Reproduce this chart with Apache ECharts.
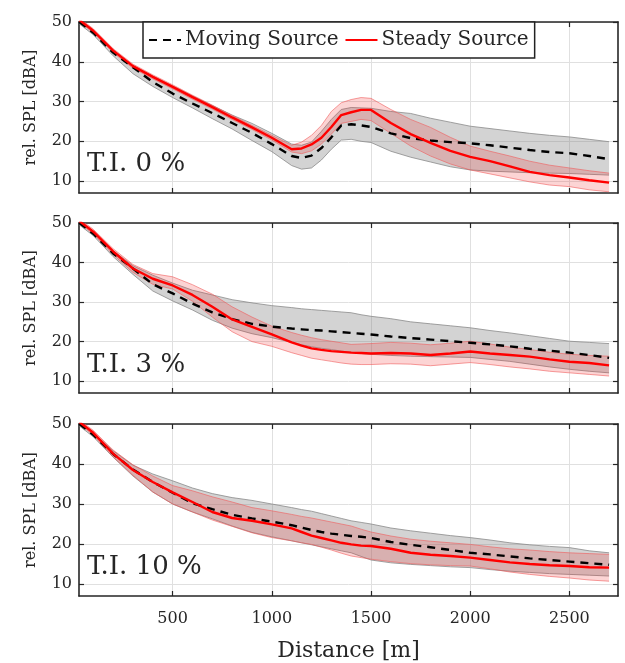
<!DOCTYPE html>
<html>
<head>
<meta charset="utf-8">
<script src="https://cdn.jsdelivr.net/npm/echarts@6/dist/echarts.min.js"></script>
<style>
html, body { margin: 0; padding: 0; background: #fff; }
#chart { width: 625px; height: 663px; }
</style>
</head>
<body>
<div id="chart"></div>
<script>
// Distance stations [m]
const distance = [30,100,200,300,400,500,600,700,800,900,1000,1100,1150,1200,1250,1300,1350,1400,1450,1500,1600,1700,1800,1900,2000,2100,2200,2300,2400,2500,2600,2700];

// T.I. 0 %
const ti0SteadyMean = [50.5,47.8,42.8,38.9,36.2,33.7,31.1,28.6,26.0,23.5,20.9,18.0,18.2,19.2,20.9,23.6,26.6,27.3,27.9,27.9,24.6,21.8,19.6,17.6,16.1,15.0,13.7,12.3,11.5,10.9,10.2,9.6];
const ti0SteadyLow  = [50.0,47.3,42.3,38.4,35.7,33.2,30.6,28.1,25.5,23.0,20.3,17.3,16.9,17.6,19.3,21.8,24.5,25.0,25.5,25.2,22.0,18.8,16.3,14.3,12.8,11.8,10.8,9.8,9.0,8.6,7.8,7.3];
const ti0SteadyHigh = [51.0,48.3,43.3,39.4,36.7,34.2,31.6,29.1,26.5,24.0,21.5,19.0,19.8,21.5,24.0,27.5,29.7,30.5,31.0,30.8,28.0,25.5,23.5,21.0,18.8,17.5,16.3,15.0,14.0,13.3,12.6,12.0];
const ti0MovingMean = [50.0,47.3,42.3,38.6,34.9,32.0,29.5,27.1,24.6,22.1,19.3,16.3,15.8,16.4,18.3,21.0,24.0,24.3,24.0,23.6,22.0,20.8,20.2,19.8,19.5,19.0,18.4,17.8,17.3,17.0,16.3,15.5];
const ti0MovingLow  = [49.5,46.8,41.5,37.0,33.8,31.0,28.4,25.7,23.1,20.2,17.4,13.9,13.0,13.3,15.3,18.0,20.3,20.5,20.0,19.7,17.5,16.0,14.8,13.6,12.8,12.5,12.3,12.1,12.0,11.9,11.7,11.5];
const ti0MovingHigh = [50.5,47.8,43.0,39.0,36.4,33.9,31.4,29.0,26.6,24.5,22.0,19.3,19.0,19.8,22.5,25.5,28.0,28.5,28.4,28.3,27.5,27.0,25.8,24.8,23.8,23.2,22.6,22.0,21.5,21.1,20.5,19.9];

// T.I. 3 %
const ti3SteadyMean = [50.5,47.8,42.8,38.5,35.9,34.2,31.8,28.8,25.6,23.7,21.8,19.8,19.0,18.3,17.9,17.6,17.4,17.2,17.1,17.0,17.1,17.0,16.6,17.0,17.5,17.0,16.6,16.2,15.5,14.9,14.6,14.0];
const ti3SteadyLow  = [50.0,47.2,42.0,37.5,34.5,33.3,30.2,26.2,22.5,20.0,18.8,17.2,16.5,15.8,15.4,15.0,14.6,14.3,14.2,14.2,14.4,14.3,13.9,14.3,14.7,14.2,13.6,13.1,12.5,12.1,11.7,11.3];
const ti3SteadyHigh = [51.0,48.4,43.5,39.5,37.2,36.4,34.4,32.0,28.8,26.2,23.9,22.3,21.6,21.0,20.5,20.1,19.7,19.3,19.4,19.5,19.8,19.6,19.2,19.6,20.1,19.4,18.6,18.0,17.3,16.8,16.5,16.3];
const ti3MovingMean = [50.0,47.3,42.3,38.5,34.5,32.2,29.6,27.4,25.7,24.5,23.8,23.3,23.1,22.9,22.8,22.6,22.4,22.2,22.0,21.8,21.3,20.9,20.5,20.1,19.7,19.3,18.8,18.2,17.7,17.2,16.6,15.9];
const ti3MovingLow  = [49.5,46.8,41.5,37.0,32.8,30.3,28.0,25.4,23.4,22.0,21.0,19.8,19.2,18.7,18.3,18.0,17.6,17.3,17.0,16.8,16.5,16.3,16.2,16.1,16.0,15.5,15.0,14.3,13.6,13.0,12.5,12.1];
const ti3MovingHigh = [50.5,47.8,43.0,39.2,36.8,34.8,33.0,31.8,30.6,29.8,29.1,28.6,28.3,28.1,27.9,27.7,27.5,27.3,26.8,26.4,25.8,25.0,24.5,24.0,23.5,22.8,22.2,21.5,20.8,20.1,19.8,19.5];

// T.I. 10 %
const ti10SteadyMean = [50.5,47.8,42.6,38.5,35.5,32.9,30.5,28.0,26.5,25.8,24.9,23.9,23.0,22.1,21.5,20.9,20.3,19.9,19.6,19.5,18.8,17.8,17.3,17.0,16.6,16.0,15.4,15.0,14.7,14.5,14.2,14.1];
const ti10SteadyLow  = [50.0,47.2,41.8,37.2,33.0,30.0,28.0,26.0,24.4,22.8,21.6,20.8,20.3,19.9,19.2,18.5,17.7,17.0,16.6,16.2,15.6,15.1,14.8,14.6,14.5,13.8,13.0,12.4,11.9,11.5,11.0,10.7];
const ti10SteadyHigh = [51.0,48.4,43.5,39.8,37.0,34.6,33.3,31.8,30.5,29.1,28.3,27.4,26.9,26.5,26.0,25.5,25.0,24.5,23.7,23.0,22.0,21.2,20.7,20.3,19.9,19.3,18.8,18.5,18.1,17.8,17.6,17.4];
const ti10MovingMean = [50.0,47.3,42.5,38.6,35.5,32.8,30.2,28.7,27.3,26.4,25.6,24.7,24.1,23.5,23.0,22.6,22.3,22.0,21.8,21.5,20.5,19.8,19.2,18.5,17.8,17.4,16.9,16.4,16.0,15.6,15.2,14.8];
const ti10MovingLow  = [49.5,46.8,41.7,37.0,33.0,30.0,28.0,26.3,24.5,22.9,21.8,20.8,20.3,19.8,19.3,18.8,18.3,17.8,16.9,16.0,15.3,14.9,14.6,14.3,14.1,13.6,13.2,12.9,12.6,12.4,12.2,12.0];
const ti10MovingHigh = [50.5,47.8,43.3,39.7,37.5,35.8,34.0,32.6,31.6,30.9,30.0,29.1,28.6,28.2,27.6,27.0,26.4,25.8,25.4,25.0,24.0,23.3,22.7,22.1,21.6,21.0,20.3,19.8,19.4,19.1,18.3,17.8];

// Tick labels
const xTicks = [500, 1000, 1500, 2000, 2500];
const yTicks = [10, 20, 30, 40, 50];
const panelLabels = ['T.I. 0 %', 'T.I. 3 %', 'T.I. 10 %'];

const panels = [
  { sMean: ti0SteadyMean, sLow: ti0SteadyLow, sHigh: ti0SteadyHigh, mMean: ti0MovingMean, mLow: ti0MovingLow, mHigh: ti0MovingHigh },
  { sMean: ti3SteadyMean, sLow: ti3SteadyLow, sHigh: ti3SteadyHigh, mMean: ti3MovingMean, mLow: ti3MovingLow, mHigh: ti3MovingHigh },
  { sMean: ti10SteadyMean, sLow: ti10SteadyLow, sHigh: ti10SteadyHigh, mMean: ti10MovingMean, mLow: ti10MovingLow, mHigh: ti10MovingHigh }
];

const FONT = '"DejaVu Serif", "Liberation Serif", serif';
const INK = '#262626';
const gridBoxes = [
  { left: 79, top: 22, width: 539, height: 171 },
  { left: 79, top: 223, width: 539, height: 170 },
  { left: 79, top: 424, width: 539, height: 172 }
];
const X_MIN = 28, X_MAX = 2745, Y_MIN = 7, Y_MAX = 50;

const pairs = (ys) => distance.map((d, i) => [d, ys[i]]);

// Shaded spread band between a lower and an upper curve, drawn as one polygon.
function bandSeries(xi, yi, lo, hi, fill, edge) {
  const rows = distance.map((d, k) => [d, lo[k], hi[k]]);
  return {
    type: 'custom', xAxisIndex: xi, yAxisIndex: yi, silent: true,
    data: rows,
    encode: { x: 0, y: [1, 2] },
    renderItem: (params, api) => {
      if (params.dataIndex !== 0) return null;
      const upper = rows.map(r => api.coord([r[0], r[2]]));
      const lower = rows.map(r => api.coord([r[0], r[1]]));
      const cs = params.coordSys;
      const clip = { type: 'rect', shape: { x: cs.x, y: cs.y, width: cs.width, height: cs.height } };
      return {
        type: 'group',
        children: [
          { type: 'polygon', shape: { points: upper.concat(lower.slice().reverse()) },
            style: { fill: fill, stroke: null }, clipPath: clip },
          { type: 'polyline', shape: { points: upper },
            style: { fill: null, stroke: edge, lineWidth: 0.8 }, clipPath: clip },
          { type: 'polyline', shape: { points: lower },
            style: { fill: null, stroke: edge, lineWidth: 0.8 }, clipPath: clip }
        ]
      };
    }
  };
}

const xAxes = [], yAxes = [], series = [];
gridBoxes.forEach((g, i) => {
  const last = i === gridBoxes.length - 1;
  xAxes.push({
    type: 'value', gridIndex: i, min: X_MIN, max: X_MAX, position: 'bottom',
    axisLine: { show: true, onZero: false, lineStyle: { color: INK, width: 1.6 } },
    axisTick: { show: true, inside: true, length: 5, customValues: xTicks, lineStyle: { color: INK, width: 1.2 } },
    axisLabel: { show: last, customValues: xTicks, margin: 15, fontFamily: FONT, fontSize: 16, color: INK,
                 formatter: (v) => String(v) },
    splitLine: { show: true, lineStyle: { color: '#e0e0e0', width: 1 } },
    name: last ? 'Distance [m]' : '', nameLocation: 'middle', nameGap: 44,
    nameTextStyle: { fontFamily: FONT, fontSize: 22, color: INK }
  });
  xAxes.push({
    type: 'value', gridIndex: i, min: X_MIN, max: X_MAX, position: 'top',
    axisLine: { show: true, onZero: false, lineStyle: { color: INK, width: 1.6 } },
    axisTick: { show: true, inside: true, length: 5, customValues: xTicks, lineStyle: { color: INK, width: 1.2 } },
    axisLabel: { show: false }, splitLine: { show: false }
  });
  yAxes.push({
    type: 'value', gridIndex: i, min: Y_MIN, max: Y_MAX, position: 'left',
    axisLine: { show: true, onZero: false, lineStyle: { color: INK, width: 1.6 } },
    axisTick: { show: true, inside: true, length: 5, customValues: yTicks, lineStyle: { color: INK, width: 1.2 } },
    axisLabel: { show: true, customValues: yTicks, margin: 7, fontFamily: FONT, fontSize: 16, color: INK },
    splitLine: { show: true, lineStyle: { color: '#e0e0e0', width: 1 } },
    name: 'rel. SPL [dBA]', nameLocation: 'middle', nameGap: 40,
    nameTextStyle: { fontFamily: FONT, fontSize: 16, color: INK }
  });
  yAxes.push({
    type: 'value', gridIndex: i, min: Y_MIN, max: Y_MAX, position: 'right',
    axisLine: { show: true, onZero: false, lineStyle: { color: INK, width: 1.6 } },
    axisTick: { show: true, inside: true, length: 5, customValues: yTicks, lineStyle: { color: INK, width: 1.2 } },
    axisLabel: { show: false }, splitLine: { show: false }
  });

  const p = panels[i];
  const xi = 2 * i, yi = 2 * i;
  series.push(bandSeries(xi, yi, p.mLow, p.mHigh, 'rgba(120,120,120,0.33)', '#8a8a8a'));
  series.push(bandSeries(xi, yi, p.sLow, p.sHigh, 'rgba(240,40,40,0.2)', 'rgba(240,90,90,0.75)'));
  const base = { type: 'line', xAxisIndex: xi, yAxisIndex: yi, symbol: 'none', silent: true, animation: false };
  series.push(Object.assign({}, base, {
    name: 'Moving Source', data: pairs(p.mMean),
    lineStyle: { color: '#000', width: 2.4, type: [8, 6] }, itemStyle: { color: '#000' }
  }));
  series.push(Object.assign({}, base, {
    name: 'Steady Source', data: pairs(p.sMean),
    lineStyle: { color: '#ff0000', width: 2.4 }, itemStyle: { color: '#ff0000' }
  }));
});

const labelTops = [151, 352, 554];
const graphics = panelLabels.map((t, i) => ({
  type: 'text', left: 87, top: labelTops[i], z: 100,
  style: { text: t, fontFamily: FONT, fontSize: 26, fill: INK }
}));

const chart = echarts.init(document.getElementById('chart'), null, { renderer: 'canvas' });
chart.setOption({
  backgroundColor: '#fff',
  animation: false,
  grid: gridBoxes,
  xAxis: xAxes,
  yAxis: yAxes,
  legend: {
    data: ['Moving Source', 'Steady Source'],
    left: 143, top: 22,
    orient: 'horizontal',
    itemWidth: 32, itemHeight: 20, itemGap: 6,
    padding: [8, 6, 8, 5],
    itemStyle: { opacity: 0 },
    backgroundColor: '#fff', borderColor: '#222', borderWidth: 1.5,
    textStyle: { fontFamily: FONT, fontSize: 20, color: INK, padding: [0, 0, 0, -1] },
    selectedMode: false
  },
  graphic: graphics,
  series: series
});
</script>
</body>
</html>
